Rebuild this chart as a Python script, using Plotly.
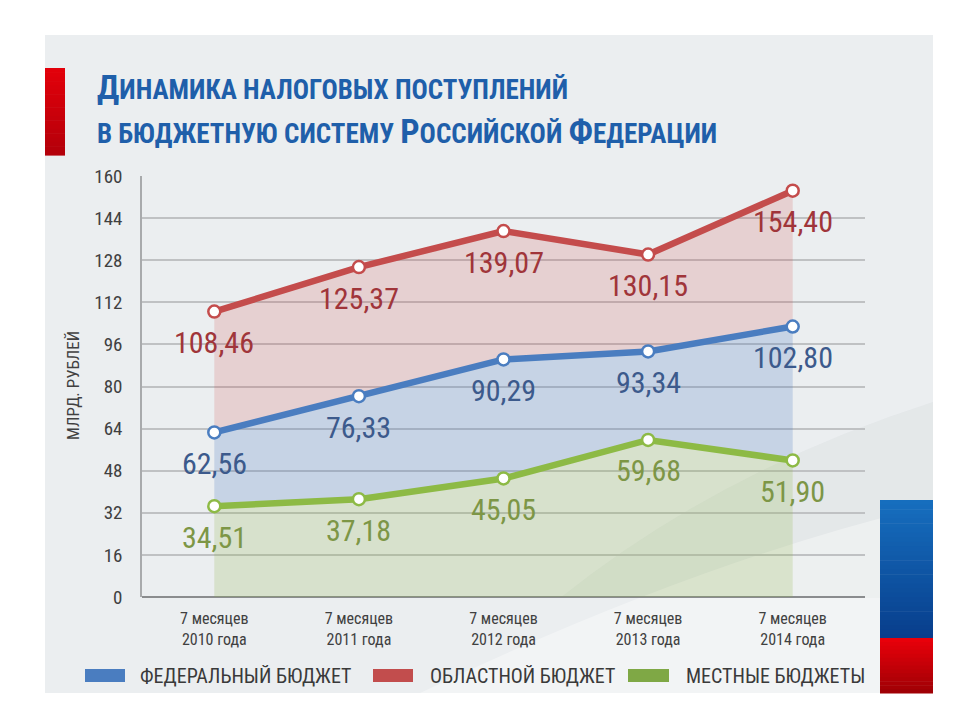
import plotly.graph_objects as go

categories = ["7 месяцев<br>2010 года", "7 месяцев<br>2011 года", "7 месяцев<br>2012 года",
              "7 месяцев<br>2013 года", "7 месяцев<br>2014 года"]
federal = [62.56, 76.33, 90.29, 93.34, 102.80]
regional = [108.46, 125.37, 139.07, 130.15, 154.40]
local = [34.51, 37.18, 45.05, 59.68, 51.90]
series_names = ["ФЕДЕРАЛЬНЫЙ БЮДЖЕТ", "ОБЛАСТНОЙ БЮДЖЕТ", "МЕСТНЫЕ БЮДЖЕТЫ"]
y_ticks = [0, 16, 32, 48, 64, 80, 96, 112, 128, 144, 160]

FONT = "Roboto Condensed, DejaVu Sans Condensed, sans-serif"
TFONT = "Roboto Condensed, Open Sans Condensed, sans-serif"
OFF = 8  # browser body margin
W, H = 960 - OFF, 720 - OFF
# plot area in screen pixels
SL, SR, ST, SB = 142, 865, 176, 597
L, R, T, B = SL - OFF, SR - OFF, ST - OFF, SB - OFF

def px(x):
    return (x - SL) / (SR - SL)

def py(y):
    return (SB - y) / (SB - ST)

line_cols = {"fed": "#4A7DC0", "reg": "#C44C4C", "loc": "#8DBA45"}
legend_cols = {"fed": "#4A7DC0", "reg": "#C24D4D", "loc": "#7FA845"}
label_cols = {"fed": "#3C5A8C", "reg": "#A0353A", "loc": "#7D9646"}
fill_cols = {"fed": "rgba(70,120,190,0.22)", "reg": "rgba(205,60,60,0.17)", "loc": "rgba(140,180,70,0.21)"}

fig = go.Figure()
order = [("loc", local, 2, "tozeroy"), ("fed", federal, 0, "tonexty"), ("reg", regional, 1, "tonexty")]
for key, vals, ni, fill in order:
    fig.add_trace(go.Scatter(
        x=categories, y=vals, name=series_names[ni], mode="lines+markers",
        line=dict(color=line_cols[key], width=6.5),
        marker=dict(size=12, color="white", line=dict(color=line_cols[key], width=2.5)),
        fill=fill, fillcolor=fill_cols[key], showlegend=False, hoverinfo="skip"))

annotations = []
for key, vals in [("reg", regional), ("fed", federal), ("loc", local)]:
    for c, v in zip(categories, vals):
        annotations.append(dict(
            x=c, y=v, xref="x", yref="y", text=f"{v:.2f}".replace(".", ","),
            showarrow=False, yshift=-31, yanchor="middle", xanchor="center",
            font=dict(family=FONT, size=30, color=label_cols[key])))

# Title
big = 34
small = 27
t1 = (f"<b><span style='font-size:{big}px'>Д</span>ИНАМИКА НАЛОГОВЫХ ПОСТУПЛЕНИЙ</b>")
t2 = (f"<b>В БЮДЖЕТНУЮ СИСТЕМУ <span style='font-size:{big}px'>Р</span>ОССИЙСКОЙ "
      f"<span style='font-size:{big}px'>Ф</span>ЕДЕРАЦИИ</b>")
for txt, yb in [(t1, 109), (t2, 153)]:
    annotations.append(dict(x=px(95), y=py(yb), xref="paper", yref="paper", text=txt,
                            showarrow=False, xanchor="left", yanchor="bottom",
                            font=dict(family=TFONT, size=small, color="#1F5FAA")))

# Y axis title
annotations.append(dict(x=px(73), y=py(386), xref="paper", yref="paper", text="МЛРД. РУБЛЕЙ",
                        textangle=-90, showarrow=False, xanchor="center", yanchor="middle",
                        font=dict(family=FONT, size=17, color="#404040")))

shapes = []
# panel background
shapes.append(dict(type="rect", xref="paper", yref="paper", x0=px(45), x1=px(933), y0=py(693), y1=py(35),
                   fillcolor="#EBEEF0", line=dict(width=0), layer="below"))
# subtle swoosh
shapes.append(dict(type="path", xref="paper", yref="paper",
                   path=f"M {px(933)} {py(402)} Q {px(720)} {py(470)} {px(560)} {py(598)} L {px(933)} {py(598)} Z",
                   fillcolor="rgba(120,130,140,0.06)", line=dict(width=0), layer="below"))
shapes.append(dict(type="path", xref="paper", yref="paper",
                   path=f"M {px(420)} {py(693)} Q {px(700)} {py(560)} {px(933)} {py(505)} L {px(933)} {py(693)} Z",
                   fillcolor="rgba(255,255,255,0.35)", line=dict(width=0), layer="below"))

def stripes(x0, x1, y0, y1, c0, c1, n=14):
    out = []
    for i in range(n):
        f = i / (n - 1)
        col = "rgb({},{},{})".format(*[int(round(a + (b - a) * f)) for a, b in zip(c0, c1)])
        ya = y0 + (y1 - y0) * i / n
        yb = y0 + (y1 - y0) * (i + 1) / n
        out.append(dict(type="rect", xref="paper", yref="paper", x0=px(x0), x1=px(x1),
                        y0=py(yb + 0.6), y1=py(ya), fillcolor=col, line=dict(width=0), layer="above"))
    return out

# red bar on left
shapes += stripes(45, 65, 68, 155, (226, 0, 10), (180, 0, 10), n=20)
# flag on right
shapes += stripes(880, 933, 500, 639, (22, 110, 190), (8, 62, 140), n=30)
shapes += stripes(880, 933, 638, 693, (232, 0, 10), (160, 0, 5), n=14)

# manual legend
leg_items = [(85, 125, 138, series_names[0], legend_cols["fed"]),
             (373, 413, 428, series_names[1], legend_cols["reg"]),
             (628, 669, 684, series_names[2], legend_cols["loc"])]
for x0, x1, tx, name, col in leg_items:
    shapes.append(dict(type="rect", xref="paper", yref="paper", x0=px(x0), x1=px(x1),
                       y0=py(682), y1=py(669), fillcolor=col, line=dict(width=0)))
    annotations.append(dict(x=px(tx), y=py(676), xref="paper", yref="paper", text=name,
                            showarrow=False, xanchor="left", yanchor="middle",
                            font=dict(family=FONT, size=20, color="#3A3A3A")))

fig.update_layout(
    width=W, height=H, margin=dict(l=L, r=W - R, t=T, b=H - B, pad=0),
    paper_bgcolor="white", plot_bgcolor="rgba(0,0,0,0)",
    font=dict(family=FONT, color="#3A3A3A"),
    shapes=shapes, annotations=annotations, showlegend=False,
)
fig.update_xaxes(type="category", range=[-0.5, 4.5], showgrid=False, zeroline=False,
                 showline=False, ticks="", tickfont=dict(family=FONT, size=16, color="#404040"),
                 ticklabelstandoff=10, fixedrange=True)
fig.update_yaxes(range=[0, 160], tickvals=y_ticks, showgrid=True, gridcolor="#BFC1C3", gridwidth=1.5,
                 zeroline=True, zerolinecolor="#8A8C8E", zerolinewidth=1.5,
                 showline=True, linecolor="#A8AAAC", linewidth=1.5, ticks="",
                 tickfont=dict(family=FONT, size=19, color="#404040"), ticklabelstandoff=14,
                 fixedrange=True)

fig.write_html("out.html")
